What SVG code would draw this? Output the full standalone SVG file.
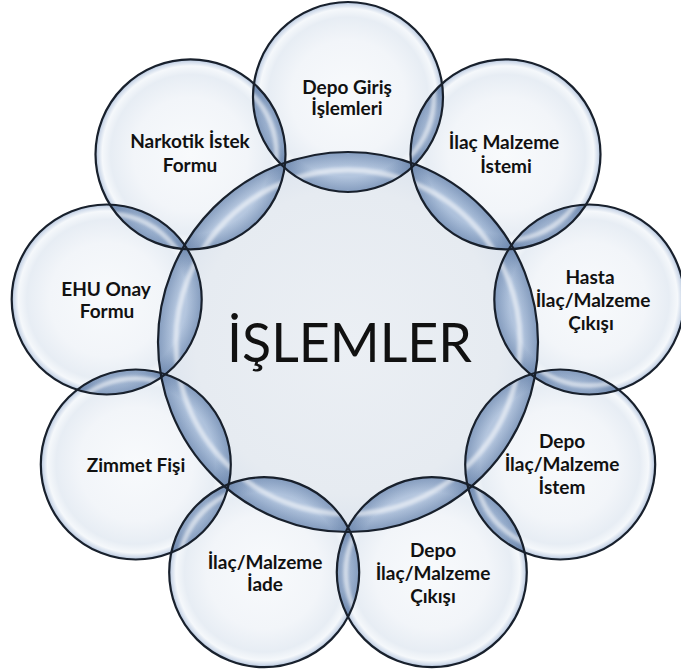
<svg xmlns="http://www.w3.org/2000/svg" width="681" height="669" viewBox="0 0 681 669">
<style>
.lbl{font-family:Lato,"Open Sans","Liberation Sans",sans-serif;font-weight:bold;font-size:19px;fill:#111;text-anchor:middle}
.big{font-family:Lato,"Open Sans","Liberation Sans",sans-serif;font-size:54px;fill:#111;text-anchor:middle}
.ofill{fill:url(#gOuter)}
.edge{fill:none;stroke:#18202c;stroke-width:2.2}
.lb{fill:url(#gLens)}
.rc{fill:url(#gRimC)}
.ro{fill:url(#gRimO)}
.hl{fill:none;stroke:#ffffff;stroke-opacity:0.55;stroke-width:5;filter:url(#soft)}
</style>
<defs>
<filter id="soft" x="-10%" y="-10%" width="120%" height="120%"><feGaussianBlur stdDeviation="1.6"/></filter>
<radialGradient id="gOuter" cx="0.5" cy="0.5" r="0.5">
<stop offset="0" stop-color="#f8fafc"/>
<stop offset="0.6" stop-color="#f2f5f9"/>
<stop offset="0.84" stop-color="#e7edf4"/>
<stop offset="0.93" stop-color="#f5f8fb"/>
<stop offset="0.975" stop-color="#cfdaea"/>
<stop offset="1" stop-color="#aabcd6"/>
</radialGradient>
<radialGradient id="gCenter" cx="0.5" cy="0.5" r="0.5">
<stop offset="0" stop-color="#ebeff4"/>
<stop offset="0.8" stop-color="#e6ebf1"/>
<stop offset="0.95" stop-color="#dfe6ef"/>
<stop offset="1" stop-color="#cbd6e5"/>
</radialGradient>
<linearGradient id="gLens" x1="0" y1="0" x2="1" y2="1">
<stop offset="0" stop-color="#bccce2"/>
<stop offset="0.5" stop-color="#acc0db"/>
<stop offset="1" stop-color="#b9c9e0"/>
</linearGradient>
<radialGradient id="gRimC" cx="0.5" cy="0.5" r="0.5">
<stop offset="0" stop-color="#4e6d99" stop-opacity="0"/>
<stop offset="0.92" stop-color="#4e6d99" stop-opacity="0"/>
<stop offset="1" stop-color="#56739e" stop-opacity="0.5"/>
</radialGradient>
<radialGradient id="gRimO" cx="0.5" cy="0.5" r="0.5">
<stop offset="0" stop-color="#4e6d99" stop-opacity="0"/>
<stop offset="0.84" stop-color="#4e6d99" stop-opacity="0"/>
<stop offset="1" stop-color="#56739e" stop-opacity="0.5"/>
</radialGradient>
<clipPath id="cpC"><circle cx="348" cy="342" r="190"/></clipPath>
<clipPath id="cp0"><circle cx="348" cy="97" r="95"/></clipPath>
<clipPath id="cp1"><circle cx="505.5" cy="154.3" r="95"/></clipPath>
<clipPath id="cp2"><circle cx="589.3" cy="299.5" r="95"/></clipPath>
<clipPath id="cp3"><circle cx="560.2" cy="464.5" r="95"/></clipPath>
<clipPath id="cp4"><circle cx="431.8" cy="572.2" r="95"/></clipPath>
<clipPath id="cp5"><circle cx="264.2" cy="572.2" r="95"/></clipPath>
<clipPath id="cp6"><circle cx="135.8" cy="464.5" r="95"/></clipPath>
<clipPath id="cp7"><circle cx="106.7" cy="299.5" r="95"/></clipPath>
<clipPath id="cp8"><circle cx="190.5" cy="154.3" r="95"/></clipPath>
</defs>
<rect width="681" height="669" fill="#ffffff"/>

<g id="n-islemler">
<circle cx="348" cy="342" r="190" fill="url(#gCenter)"/>
<text class="big" x="349.5" y="362" textLength="245" lengthAdjust="spacingAndGlyphs">İŞLEMLER</text>
</g>
<g id="n-depo-giris">
<circle class="ofill" cx="348" cy="97" r="95"/>
<text class="lbl" x="347" y="94">Depo Giriş</text>
<text class="lbl" x="347" y="115">İşlemleri</text>
</g>
<g id="n-ilac-malzeme-istemi">
<circle class="ofill" cx="505.5" cy="154.3" r="95"/>
<text class="lbl" x="504" y="149">İlaç Malzeme</text>
<text class="lbl" x="506" y="173">İstemi</text>
</g>
<g id="n-hasta-cikisi">
<circle class="ofill" cx="589.3" cy="299.5" r="95"/>
<text class="lbl" x="590" y="284">Hasta</text>
<text class="lbl" x="593" y="307">İlaç/Malzeme</text>
<text class="lbl" x="591" y="330">Çıkışı</text>
</g>
<g id="n-depo-istem">
<circle class="ofill" cx="560.2" cy="464.5" r="95"/>
<text class="lbl" x="562" y="448">Depo</text>
<text class="lbl" x="562" y="471">İlaç/Malzeme</text>
<text class="lbl" x="562" y="494">İstem</text>
</g>
<g id="n-depo-cikisi">
<circle class="ofill" cx="431.8" cy="572.2" r="95"/>
<text class="lbl" x="433" y="557">Depo</text>
<text class="lbl" x="433" y="580">İlaç/Malzeme</text>
<text class="lbl" x="433" y="603">Çıkışı</text>
</g>
<g id="n-iade">
<circle class="ofill" cx="264.2" cy="572.2" r="95"/>
<text class="lbl" x="265" y="569">İlaç/Malzeme</text>
<text class="lbl" x="265" y="591">İade</text>
</g>
<g id="n-zimmet">
<circle class="ofill" cx="135.8" cy="464.5" r="95"/>
<text class="lbl" x="136" y="472">Zimmet Fişi</text>
</g>
<g id="n-ehu">
<circle class="ofill" cx="106.7" cy="299.5" r="95"/>
<text class="lbl" x="106" y="296">EHU Onay</text>
<text class="lbl" x="107" y="318">Formu</text>
</g>
<g id="n-narkotik">
<circle class="ofill" cx="190.5" cy="154.3" r="95"/>
<text class="lbl" x="190" y="148">Narkotik İstek</text>
<text class="lbl" x="190" y="172">Formu</text>
</g>

<g id="overlaps">
<g clip-path="url(#cp0)"><circle class="lb" cx="348" cy="342" r="190"/><circle class="rc" cx="348" cy="342" r="190"/><circle class="ro" cx="348" cy="97" r="95" clip-path="url(#cpC)"/><circle class="hl" cx="348" cy="342" r="172"/></g>
<g clip-path="url(#cp1)"><circle class="lb" cx="348" cy="342" r="190"/><circle class="rc" cx="348" cy="342" r="190"/><circle class="ro" cx="505.5" cy="154.3" r="95" clip-path="url(#cpC)"/><circle class="hl" cx="348" cy="342" r="172"/></g>
<g clip-path="url(#cp2)"><circle class="lb" cx="348" cy="342" r="190"/><circle class="rc" cx="348" cy="342" r="190"/><circle class="ro" cx="589.3" cy="299.5" r="95" clip-path="url(#cpC)"/><circle class="hl" cx="348" cy="342" r="172"/></g>
<g clip-path="url(#cp3)"><circle class="lb" cx="348" cy="342" r="190"/><circle class="rc" cx="348" cy="342" r="190"/><circle class="ro" cx="560.2" cy="464.5" r="95" clip-path="url(#cpC)"/><circle class="hl" cx="348" cy="342" r="172"/></g>
<g clip-path="url(#cp4)"><circle class="lb" cx="348" cy="342" r="190"/><circle class="rc" cx="348" cy="342" r="190"/><circle class="ro" cx="431.8" cy="572.2" r="95" clip-path="url(#cpC)"/><circle class="hl" cx="348" cy="342" r="172"/></g>
<g clip-path="url(#cp5)"><circle class="lb" cx="348" cy="342" r="190"/><circle class="rc" cx="348" cy="342" r="190"/><circle class="ro" cx="264.2" cy="572.2" r="95" clip-path="url(#cpC)"/><circle class="hl" cx="348" cy="342" r="172"/></g>
<g clip-path="url(#cp6)"><circle class="lb" cx="348" cy="342" r="190"/><circle class="rc" cx="348" cy="342" r="190"/><circle class="ro" cx="135.8" cy="464.5" r="95" clip-path="url(#cpC)"/><circle class="hl" cx="348" cy="342" r="172"/></g>
<g clip-path="url(#cp7)"><circle class="lb" cx="348" cy="342" r="190"/><circle class="rc" cx="348" cy="342" r="190"/><circle class="ro" cx="106.7" cy="299.5" r="95" clip-path="url(#cpC)"/><circle class="hl" cx="348" cy="342" r="172"/></g>
<g clip-path="url(#cp8)"><circle class="lb" cx="348" cy="342" r="190"/><circle class="rc" cx="348" cy="342" r="190"/><circle class="ro" cx="190.5" cy="154.3" r="95" clip-path="url(#cpC)"/><circle class="hl" cx="348" cy="342" r="172"/></g>
<g clip-path="url(#cp1)"><circle class="lb" cx="348" cy="97" r="95"/><circle class="ro" cx="348" cy="97" r="95"/><circle class="ro" cx="505.5" cy="154.3" r="95" clip-path="url(#cp0)"/><circle class="hl" cx="348" cy="97" r="86"/></g>
<g clip-path="url(#cp2)"><circle class="lb" cx="505.5" cy="154.3" r="95"/><circle class="ro" cx="505.5" cy="154.3" r="95"/><circle class="ro" cx="589.3" cy="299.5" r="95" clip-path="url(#cp1)"/><circle class="hl" cx="505.5" cy="154.3" r="86"/></g>
<g clip-path="url(#cp3)"><circle class="lb" cx="589.3" cy="299.5" r="95"/><circle class="ro" cx="589.3" cy="299.5" r="95"/><circle class="ro" cx="560.2" cy="464.5" r="95" clip-path="url(#cp2)"/><circle class="hl" cx="589.3" cy="299.5" r="86"/></g>
<g clip-path="url(#cp4)"><circle class="lb" cx="560.2" cy="464.5" r="95"/><circle class="ro" cx="560.2" cy="464.5" r="95"/><circle class="ro" cx="431.8" cy="572.2" r="95" clip-path="url(#cp3)"/><circle class="hl" cx="560.2" cy="464.5" r="86"/></g>
<g clip-path="url(#cp5)"><circle class="lb" cx="431.8" cy="572.2" r="95"/><circle class="ro" cx="431.8" cy="572.2" r="95"/><circle class="ro" cx="264.2" cy="572.2" r="95" clip-path="url(#cp4)"/><circle class="hl" cx="431.8" cy="572.2" r="86"/></g>
<g clip-path="url(#cp6)"><circle class="lb" cx="264.2" cy="572.2" r="95"/><circle class="ro" cx="264.2" cy="572.2" r="95"/><circle class="ro" cx="135.8" cy="464.5" r="95" clip-path="url(#cp5)"/><circle class="hl" cx="264.2" cy="572.2" r="86"/></g>
<g clip-path="url(#cp7)"><circle class="lb" cx="135.8" cy="464.5" r="95"/><circle class="ro" cx="135.8" cy="464.5" r="95"/><circle class="ro" cx="106.7" cy="299.5" r="95" clip-path="url(#cp6)"/><circle class="hl" cx="135.8" cy="464.5" r="86"/></g>
<g clip-path="url(#cp8)"><circle class="lb" cx="106.7" cy="299.5" r="95"/><circle class="ro" cx="106.7" cy="299.5" r="95"/><circle class="ro" cx="190.5" cy="154.3" r="95" clip-path="url(#cp7)"/><circle class="hl" cx="106.7" cy="299.5" r="86"/></g>
<g clip-path="url(#cp0)"><circle class="lb" cx="190.5" cy="154.3" r="95"/><circle class="ro" cx="190.5" cy="154.3" r="95"/><circle class="ro" cx="348" cy="97" r="95" clip-path="url(#cp8)"/><circle class="hl" cx="190.5" cy="154.3" r="86"/></g>
</g>

<g id="outlines">
<circle class="edge" cx="348" cy="342" r="190"/>
<circle class="edge" cx="348" cy="97" r="95"/>
<circle class="edge" cx="505.5" cy="154.3" r="95"/>
<circle class="edge" cx="589.3" cy="299.5" r="95"/>
<circle class="edge" cx="560.2" cy="464.5" r="95"/>
<circle class="edge" cx="431.8" cy="572.2" r="95"/>
<circle class="edge" cx="264.2" cy="572.2" r="95"/>
<circle class="edge" cx="135.8" cy="464.5" r="95"/>
<circle class="edge" cx="106.7" cy="299.5" r="95"/>
<circle class="edge" cx="190.5" cy="154.3" r="95"/>
</g>
</svg>
